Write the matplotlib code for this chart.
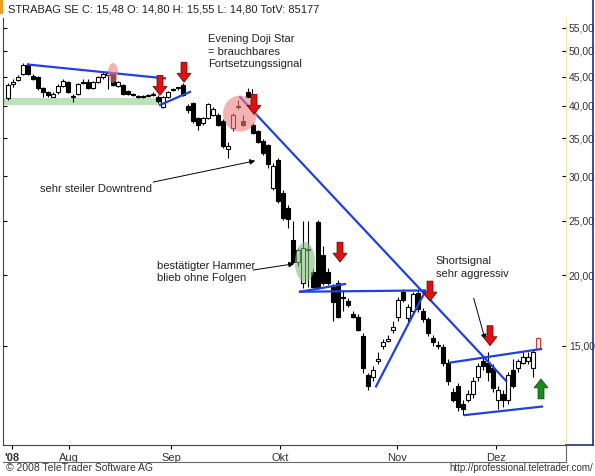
import numpy as np
import matplotlib.pyplot as plt
import matplotlib.patches as mpatches
from matplotlib.transforms import IdentityTransform

plt.rcParams['font.family'] = ['Liberation Sans', 'DejaVu Sans']

# OHLC per trading day, mid July .. Dec 2008
candles = [
    (41.3, 43.8, 41.0, 43.5), (43.6, 44.5, 43.2, 44.0), (44.4, 45.3, 44.2, 45.0),
    (45.5, 47.5, 45.3, 47.3), (47.3, 47.5, 45.3, 45.5), (45.2, 45.5, 44.4, 44.6),
    (45.0, 45.2, 42.7, 42.9), (42.9, 43.1, 41.4, 42.2), (42.2, 42.4, 41.5, 41.7),
    (41.5, 42.2, 41.4, 42.0), (42.2, 43.6, 42.0, 43.4), (43.4, 44.6, 43.2, 44.3),
    (44.0, 44.2, 42.1, 42.3), (41.4, 42.0, 40.6, 41.6), (42.0, 43.8, 41.8, 43.6),
    (43.8, 44.5, 43.6, 44.1), (44.0, 44.6, 42.8, 43.0), (43.0, 44.2, 42.8, 44.0),
    (44.0, 45.2, 43.8, 45.0), (45.0, 45.8, 44.6, 45.5), (45.4, 46.0, 42.8, 45.6),
    (45.5, 45.8, 43.3, 43.5), (43.3, 44.2, 43.1, 44.0), (43.5, 43.7, 41.8, 42.0),
    (42.5, 42.7, 41.8, 42.0), (41.9, 42.1, 41.6, 41.8), (41.6, 41.8, 41.3, 41.5),
    (41.4, 41.8, 41.2, 41.6), (41.6, 42.0, 41.4, 41.7), (41.8, 42.2, 41.6, 42.0),
    (41.5, 41.7, 40.5, 40.8), (39.8, 41.6, 39.6, 41.5), (41.5, 42.4, 41.3, 42.2),
    (42.6, 42.9, 42.4, 42.7), (42.9, 43.2, 42.7, 43.0), (43.5, 43.8, 41.6, 41.8),
    (40.0, 40.2, 38.8, 39.3), (40.4, 40.6, 37.2, 37.5), (38.0, 38.2, 36.2, 37.0),
    (37.2, 38.1, 37.0, 38.0), (38.0, 40.4, 37.8, 40.2), (38.5, 39.7, 38.3, 39.5),
    (38.5, 38.8, 36.8, 37.0), (37.5, 37.8, 33.7, 33.9), (33.5, 34.5, 32.3, 33.9),
    (36.5, 38.8, 36.0, 38.5), (39.8, 41.0, 39.5, 40.0), (37.5, 38.5, 36.8, 37.0),
    (42.3, 43.0, 41.2, 41.5), (36.9, 37.2, 35.6, 35.8), (36.0, 36.2, 34.3, 34.5),
    (34.6, 34.9, 32.7, 32.9), (34.0, 34.2, 31.0, 31.5), (28.6, 31.6, 28.3, 31.3),
    (32.0, 32.3, 26.9, 27.1), (28.0, 28.3, 25.1, 25.3), (26.3, 26.6, 24.3, 25.2),
    (23.1, 25.0, 21.0, 21.1), (21.1, 22.4, 20.8, 22.2), (19.4, 25.0, 19.0, 22.4),
    (22.3, 25.0, 19.1, 22.2), (20.3, 20.6, 19.0, 19.1), (24.9, 25.1, 18.9, 19.1),
    (21.7, 22.5, 19.2, 19.4), (20.3, 20.6, 19.2, 19.4), (19.1, 19.3, 16.6, 17.9),
    (19.4, 19.6, 16.8, 16.9), (18.2, 18.8, 17.3, 18.3), (18.0, 18.2, 17.6, 17.7),
    (17.1, 17.3, 16.8, 16.9), (16.9, 17.1, 15.9, 16.0), (15.6, 15.8, 13.4, 13.7),
    (13.3, 13.4, 12.5, 12.7), (13.2, 13.8, 13.0, 13.6), (14.1, 14.6, 13.9, 14.2),
    (15.0, 15.4, 14.8, 15.2), (15.3, 15.7, 15.2, 15.4), (16.0, 16.6, 15.8, 16.2),
    (16.9, 18.3, 16.6, 18.1), (18.7, 18.9, 17.9, 18.1), (16.8, 17.8, 16.5, 17.6),
    (17.3, 18.7, 17.1, 18.5), (18.6, 18.8, 17.2, 17.4), (17.3, 17.5, 16.5, 16.7),
    (16.7, 16.9, 15.6, 15.8), (15.5, 15.7, 15.0, 15.2), (15.0, 15.3, 14.8, 15.0),
    (14.9, 15.1, 13.8, 14.0), (14.0, 14.2, 12.8, 13.0), (12.4, 12.6, 11.9, 12.0),
    (12.7, 12.9, 11.5, 11.7), (11.8, 12.0, 11.3, 11.6), (12.0, 12.5, 11.9, 12.3),
    (12.3, 13.2, 12.1, 13.0), (13.2, 14.0, 13.0, 13.8), (14.1, 14.4, 13.6, 13.8),
    (14.0, 14.6, 13.0, 13.5), (13.7, 13.9, 12.4, 12.6), (12.0, 12.7, 11.6, 12.5),
    (12.3, 12.5, 11.7, 12.0), (12.0, 13.5, 11.8, 13.3), (13.6, 14.2, 12.6, 12.7),
    (13.7, 14.2, 13.5, 14.1), (14.0, 14.6, 13.9, 14.3), (14.1, 14.6, 13.9, 14.3),
    (13.7, 14.8, 13.2, 14.6), (14.80, 15.55, 14.80, 15.48),
]

month_pos = [0.8, 12.2, 32.6, 54.4, 77.8, 97.6]
month_labels = ["'08", 'Aug', 'Sep', 'Okt', 'Nov', 'Dez']
price_ticks = [15, 20, 25, 30, 35, 40, 45, 50, 55]

# trendlines (index, price)
trendlines = [
    ((4, 47.3), (31.4, 44.7)),
    ((30.4, 40.1), (36.4, 42.3)),
    ((46.4, 41.4), (99.6, 13.0)),
    ((58.4, 18.7), (83.4, 18.8)),
    ((58.4, 18.7), (67.4, 19.3)),
    ((73.6, 12.7), (83.4, 18.7)),
    ((88.4, 14.0), (106.6, 14.8)),
    ((91.4, 11.3), (106.8, 11.7)),
]
support_level = 40.8
red_arrows = [(30.4, 41.7), (35.2, 44.0), (49.2, 38.6), (66.4, 21.1), (84.4, 18.0), (96.4, 15.0)]
green_arrow = (106.6, 13.1)
ovals = [((21, 45.7), 10, 20, '#f08080'), ((46.4, 38.7), 34, 36, '#f08080'),
         ((59.4, 21.1), 20, 40, '#7fbf7f')]

fig = plt.figure(figsize=(5.95, 4.76), dpi=100)
ax = fig.add_axes([3 / 595, 31 / 476, 563 / 595, 427 / 476])
ax.set_yscale('log')
ax.set_xlim(-1, 111.6)
ax.set_ylim(10.0, 57.2)

n = len(candles)
for i, (o, h, l, c) in enumerate(candles):
    last = i == n - 1
    edge = '#e03030' if last else 'black'
    ax.vlines(i, l, h, color=edge, lw=0.8, zorder=3)
    up = c >= o
    face = 'white' if up else 'black'
    lo, hi = min(o, c), max(o, c)
    if hi / lo < 1.004:
        hi = lo * 1.004
    ax.add_patch(mpatches.Rectangle((i - 0.33, lo), 0.66, hi - lo, facecolor=face,
                                    edgecolor=edge, lw=0.8, zorder=4))

ax.plot([-1, 30.4], [support_level, support_level], color='#a8dca8', lw=5, alpha=0.8, zorder=1,
        solid_capstyle='butt')
for (x0, y0), (x1, y1) in trendlines:
    ax.plot([x0, x1], [y0, y1], color='#2040e0', lw=1.6, zorder=5)

# axes styling
ax.yaxis.tick_right()
ax.set_yticks(price_ticks)
ax.set_yticklabels([f'{p},00' for p in price_ticks], fontsize=7.5, color='#333333')
ax.yaxis.set_minor_locator(plt.FixedLocator([]))
ax.tick_params(axis='y', which='major', right=True, left=True, direction='in', length=3, pad=2)
ax.set_xticks(month_pos)
ax.set_xticklabels(month_labels, fontsize=8, color='#333333')
ax.get_xticklabels()[0].set_fontweight('bold')
ax.tick_params(axis='x', length=3, direction='out', pad=3)
ax.spines['top'].set_visible(False)
ax.spines['right'].set_color('#f0e2a8')
ax.spines['left'].set_color('#444444')
ax.spines['bottom'].set_color('#444444')

# annotations
txt = dict(fontsize=8, color='#222222', va='top', ha='left')
ax.text(40.0, 53.5, 'Evening Doji Star\n= brauchbares\nFortsetzungssignal', linespacing=1.3, **txt)
ax.plot([48.8, 48.8], [42.8, 39.7], color='black', lw=0.7)
ax.text(6.4, 29.0, 'sehr steiler Downtrend', **txt)
ax.annotate('', xy=(50, 32.0), xytext=(28.5, 29.2),
            arrowprops=dict(arrowstyle='-|>', color='black', lw=0.7, mutation_scale=8))
ax.text(29.8, 21.2, 'bestätigter Hammer\nblieb ohne Folgen', linespacing=1.3, **txt)
ax.annotate('', xy=(57.8, 21.0), xytext=(48.5, 20.4),
            arrowprops=dict(arrowstyle='-|>', color='black', lw=0.7, mutation_scale=8))
ax.text(85.5, 21.6, 'Shortsignal\nsehr aggressiv', linespacing=1.3, **txt)
ax.annotate('', xy=(95.6, 15.2), xytext=(93.0, 18.4),
            arrowprops=dict(arrowstyle='-|>', color='black', lw=0.7, mutation_scale=8))

fig.canvas.draw()
ident = IdentityTransform()


def arrow_px(x, y, color, down=True):
    # block arrow in pixels, tip at (x, y)
    s = -1 if down else 1
    pts = [(0, 0), (-7, -s * 9), (-3, -s * 9), (-3, -s * 20), (3, -s * 20), (3, -s * 9), (7, -s * 9)]
    pts = [(x + a, y + b) for a, b in pts]
    fig.patches.append(mpatches.Polygon(pts, closed=True, facecolor=color,
                                        edgecolor='#600000' if down else '#0a4010',
                                        lw=0.5, transform=ident, figure=fig, zorder=10))


for (xi, yp) in red_arrows:
    px, py = ax.transData.transform((xi, yp))
    arrow_px(px, py, '#e01010', down=True)
gx, gy = ax.transData.transform(green_arrow)
arrow_px(gx, gy, '#1a8a1a', down=False)

for (c, w, h, col) in ovals:
    px, py = ax.transData.transform(c)
    fig.patches.append(mpatches.Ellipse((px, py), w, h, facecolor=col, alpha=0.6, edgecolor='none',
                                        transform=ident, figure=fig, zorder=0))

# header and footer
fig.patches.append(mpatches.Rectangle((0, 462), 3, 14, facecolor='#f0a020', transform=ident, figure=fig))
fig.text(8 / 595, 1 - 9 / 476, 'STRABAG SE C: 15,48 O: 14,80 H: 15,55 L: 14,80 TotV: 85177',
         fontsize=8, va='center', ha='left', color='#222222')
fig.text(6 / 595, 8 / 476, '© 2008 TeleTrader Software AG', fontsize=7.5, va='center', ha='left', color='#333333')
fig.text(593 / 595, 8 / 476, 'http://professional.teletrader.com/', fontsize=7, va='center', ha='right',
         color='#333333')
fig.add_artist(plt.Line2D([593 / 595, 593 / 595], [31 / 476, 1], color='#203080', lw=1.2))
fig.add_artist(plt.Line2D([566 / 595, 593 / 595], [31 / 476, 31 / 476], color='#203080', lw=1.2))
fig.add_artist(plt.Line2D([3 / 595, 566 / 595], [14 / 476, 14 / 476], color='#666666', lw=0.8))
fig.add_artist(plt.Line2D([566 / 595, 566 / 595], [14 / 476, 31 / 476], color='#666666', lw=0.8))

fig.savefig('out.png', dpi=100)
